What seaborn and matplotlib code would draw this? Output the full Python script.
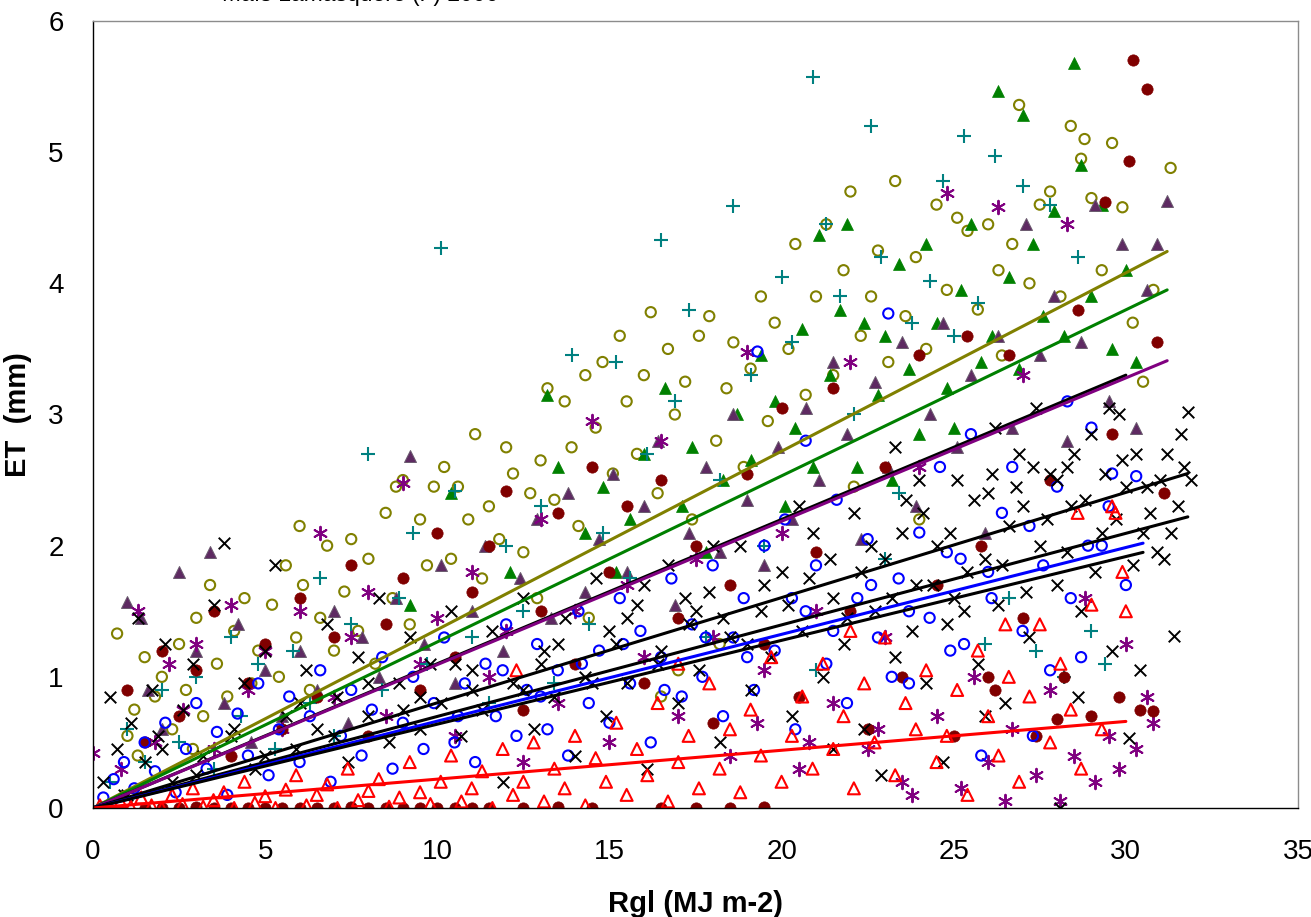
import numpy as np
import pandas as pd
import matplotlib
matplotlib.use("Agg")
import matplotlib.pyplot as plt
import seaborn as sns

# olive open circles
olive_x = [0.7, 1.0, 1.2, 1.5, 1.8, 2.0, 2.3, 2.5, 2.7, 3.0, 3.2, 3.4, 3.6, 3.9, 4.1, 4.4, 4.6, 4.8, 1.3, 2.9,
           5.2, 5.4, 5.6, 5.9, 6.1, 6.3, 6.6, 6.8, 7.0, 7.3, 7.5, 7.7, 8.0, 8.2, 8.5, 8.7, 9.0, 9.2, 9.5, 9.7, 9.9, 6.0, 8.8,
           10.2, 10.4, 10.6, 10.9, 11.1, 11.3, 11.5, 11.8, 12.0, 12.2, 12.5, 12.7, 13.0, 13.2, 13.4, 13.7, 13.9, 14.1, 14.3, 14.6, 14.8, 12.9, 14.4,
           15.1, 15.3, 15.5, 15.8, 16.0, 16.2, 16.4, 16.7, 16.9, 17.2, 17.4, 17.6, 17.9, 18.1, 18.4, 18.6, 18.9, 19.1, 19.4, 19.6, 19.8, 17.0, 18.2, 16.5,
           20.2, 20.4, 20.7, 21.0, 21.3, 21.5, 21.8, 22.0, 22.3, 22.6, 22.8, 23.1, 23.3, 23.6, 23.9, 24.2, 24.5, 24.8, 22.1, 24.0,
           25.1, 25.4, 25.7, 26.0, 26.3, 26.7, 26.9, 27.2, 27.5, 27.8, 28.1, 28.4, 28.7, 29.0, 29.3, 29.6, 29.9, 30.2, 30.5, 30.8, 31.3, 28.8, 26.4]
olive_y = [1.33, 0.55, 0.75, 1.15, 0.85, 1.0, 0.6, 1.25, 0.9, 1.45, 0.7, 1.7, 1.1, 0.85, 1.35, 1.6, 0.95, 1.2, 0.4, 0.45,
           1.55, 1.0, 1.85, 1.3, 1.7, 0.9, 1.45, 2.0, 1.2, 1.65, 2.05, 1.35, 1.9, 1.1, 2.25, 1.6, 2.5, 1.4, 2.2, 1.85, 2.45, 2.15, 2.45,
           2.6, 1.9, 2.45, 2.2, 2.85, 1.75, 2.3, 2.05, 2.75, 2.55, 1.95, 2.4, 2.65, 3.2, 2.35, 3.1, 2.75, 2.15, 3.3, 2.9, 3.4, 1.6, 1.45,
           2.55, 3.6, 3.1, 2.7, 3.3, 3.78, 2.4, 3.5, 3.0, 3.25, 2.2, 3.6, 3.75, 2.8, 3.2, 3.55, 2.6, 3.35, 3.9, 2.95, 3.7, 1.05, 1.25, 0.85,
           3.5, 4.3, 3.15, 3.9, 4.45, 3.3, 4.1, 4.7, 3.6, 3.9, 4.25, 3.4, 4.78, 3.75, 4.2, 3.5, 4.6, 3.95, 2.45, 2.2,
           4.5, 4.4, 3.8, 4.45, 4.1, 4.3, 5.36, 4.0, 4.6, 4.7, 3.9, 5.2, 4.95, 4.65, 4.1, 5.07, 4.58, 3.7, 3.25, 3.95, 4.88, 5.1, 3.45]

# green filled triangles
green_x = [9.2, 10.4, 12.1, 13.2, 13.5, 14.3, 14.8, 15.2, 15.6, 16.0, 16.6, 17.1, 17.4, 17.8, 18.3, 18.7, 19.1, 19.4, 19.8,
           20.1, 20.4, 20.6, 20.9, 21.1, 21.4, 21.7, 21.9, 22.2, 22.4, 22.8, 23.0, 23.4, 23.7, 24.0, 24.2, 24.5, 24.8,
           25.2, 25.5, 25.8, 26.1, 26.3, 26.6, 26.9, 27.0, 27.3, 27.6, 27.9, 28.2, 28.5, 28.7, 29.0, 29.3, 29.6, 30.0, 30.3, 25.0, 23.2]
green_y = [1.55, 2.4, 1.8, 3.15, 2.6, 2.1, 2.45, 1.8, 2.2, 2.7, 3.2, 2.3, 2.75, 1.95, 2.5, 3.0, 2.65, 3.45, 3.1,
           2.3, 2.9, 3.65, 2.6, 4.37, 3.3, 3.8, 4.45, 2.6, 3.7, 3.15, 3.6, 4.15, 3.35, 2.85, 4.3, 3.7, 3.2,
           3.95, 4.45, 3.4, 3.6, 5.47, 4.05, 3.35, 5.28, 4.3, 3.75, 4.55, 3.6, 5.68, 4.9, 3.9, 4.6, 3.5, 4.1, 3.4, 2.9, 2.5]

# dark purple filled triangles
dkpurple_x = [1.0, 1.4, 1.6, 2.0, 2.5, 3.0, 3.4, 3.8, 4.2, 4.6, 5.0, 5.5, 6.0, 6.5, 7.0, 7.4, 7.8, 8.3, 8.8, 9.2, 9.6,
              10.1, 10.5, 11.0, 11.4, 11.9, 12.4, 12.9, 13.3, 13.8, 14.3, 14.7, 15.1, 15.5, 16.0, 16.4, 16.9, 17.3, 17.8,
              18.2, 18.6, 19.0, 19.5, 19.9, 20.3, 20.7, 21.1, 21.5, 21.9, 22.3, 22.7, 23.1, 23.5, 23.9, 24.3, 24.7, 25.1,
              25.5, 25.9, 26.3, 26.7, 27.1, 27.5, 27.9, 28.3, 28.7, 29.1, 29.5, 29.9, 30.3, 30.9, 31.2, 30.6]
dkpurple_y = [1.57, 1.45, 0.9, 0.6, 1.8, 1.2, 1.95, 0.8, 1.4, 0.5, 1.05, 0.7, 1.2, 0.9, 1.5, 0.65, 1.3, 1.0, 1.6, 2.68, 1.25,
              1.85, 0.95, 1.5, 2.0, 1.2, 1.75, 2.2, 1.45, 2.4, 1.65, 2.05, 2.55, 1.8, 2.3, 2.8, 1.55, 2.1, 2.6,
              1.95, 3.0, 2.35, 1.85, 2.75, 2.2, 3.05, 2.5, 3.4, 2.85, 2.05, 3.25, 2.6, 3.55, 2.3, 3.0, 3.7, 2.75,
              3.3, 2.1, 3.6, 2.9, 4.45, 3.45, 3.9, 2.8, 3.55, 4.6, 3.1, 4.3, 2.9, 4.3, 4.63, 3.95]

# purple asterisks
purple_x = [0.0, 0.8, 1.3, 1.8, 2.2, 2.6, 3.0, 3.5, 4.0, 4.5, 5.0, 5.5, 6.0, 6.6, 7.0, 7.5, 8.0, 8.5, 9.0, 9.5,
            10.0, 10.5, 11.0, 11.5, 12.0, 12.5, 13.0, 13.5, 14.0, 14.5, 15.0, 15.5, 16.0, 16.5, 17.0, 17.5, 18.0, 18.5,
            19.0, 19.5, 20.0, 20.5, 21.0, 21.5, 22.0, 22.5, 23.0, 23.5, 24.0, 24.5, 24.8, 25.2, 25.6, 26.0, 26.3, 26.7,
            27.0, 27.4, 27.8, 28.1, 28.5, 28.8, 29.1, 29.5, 29.8, 30.0, 30.3, 30.6, 30.8, 28.3, 23.8, 26.5, 22.8, 20.8, 19.3]
purple_y = [0.42, 0.3, 1.5, 0.5, 1.1, 0.75, 1.25, 0.45, 1.55, 0.9, 1.2, 0.6, 1.5, 2.1, 0.85, 1.3, 1.65, 0.7, 2.48, 1.1,
            1.45, 0.55, 1.8, 1.0, 1.35, 0.35, 2.2, 0.8, 1.5, 2.95, 0.5, 1.7, 1.15, 2.8, 0.7, 1.9, 1.3, 0.4,
            3.48, 1.05, 2.1, 0.3, 1.5, 0.8, 3.4, 0.45, 1.3, 0.2, 2.6, 0.7, 4.69, 0.15, 1.0, 0.35, 4.58, 0.6,
            3.3, 0.25, 0.9, 0.05, 0.4, 1.6, 0.2, 0.55, 0.3, 1.25, 0.45, 0.85, 0.65, 4.45, 0.1, 0.05, 0.6, 0.5, 0.65]

# teal plus signs
teal_x = [0.5, 1.0, 1.5, 2.0, 2.5, 3.0, 3.5, 4.0, 4.3, 4.8, 5.3, 5.8, 6.3, 6.6, 7.0, 7.5, 8.0, 8.4, 8.9, 9.3, 9.7,
          10.1, 10.5, 11.0, 11.5, 12.0, 12.5, 13.0, 13.4, 13.9, 14.4, 14.8, 15.2, 15.6, 16.1, 16.5, 16.9, 17.3, 17.8,
          18.2, 18.6, 19.1, 19.5, 20.0, 20.3, 20.9, 21.3, 21.7, 22.1, 22.6, 22.9, 23.4, 23.8, 24.3, 24.7, 25.0, 25.3,
          25.7, 26.2, 26.6, 27.0, 27.4, 27.8, 28.2, 28.6, 29.0, 29.4, 25.9, 23.0, 21.0]
teal_y = [0.2, 0.6, 0.35, 0.9, 0.5, 1.0, 0.3, 1.3, 0.7, 1.1, 0.45, 1.2, 0.8, 1.75, 0.55, 1.4, 2.7, 0.9, 1.6, 2.1, 1.1,
          4.27, 2.42, 1.3, 0.8, 2.0, 1.5, 2.3, 0.95, 3.45, 1.4, 2.1, 3.4, 1.75, 2.7, 4.33, 3.1, 3.8, 1.3,
          2.5, 4.59, 3.3, 2.0, 4.05, 3.55, 5.57, 4.45, 3.9, 3.0, 5.2, 4.2, 2.4, 3.7, 4.02, 4.78, 3.6, 5.12,
          3.85, 4.97, 1.6, 4.74, 1.2, 4.6, 1.0, 4.2, 1.35, 1.1, 1.25, 1.9, 1.05]

# dark red filled circles
dkred_x = [1.5, 2.5, 3.5, 4.5, 5.5, 6.5, 7.5, 8.5, 9.5, 10.5, 11.5, 12.5, 13.5, 14.5, 16.5, 17.5, 18.5, 19.5,
           2.0, 3.0, 4.0, 5.0, 6.0, 7.0, 8.0, 9.0, 10.0, 11.0,
           1.0, 1.5, 2.0, 2.5, 3.0, 3.5, 4.0, 4.5, 5.0, 5.5, 6.0, 6.5, 7.0, 7.5, 8.0, 8.5, 9.0, 9.5, 10.0, 10.5,
           11.0, 11.5, 12.0, 12.5, 13.0, 13.5, 14.0, 14.5, 15.0, 15.5, 16.0, 16.5, 17.0, 17.5, 18.0, 18.5, 19.0, 19.5,
           20.0, 20.5, 21.0, 21.5, 22.0, 22.5, 23.0, 23.5, 24.0, 24.5, 25.0, 25.4, 25.8, 26.2, 26.6, 27.0, 27.4, 27.8,
           28.2, 28.6, 29.0, 29.4, 29.8, 30.1, 30.2, 30.6, 30.9, 30.4, 31.1, 30.8, 29.6, 28.0, 26.0]
dkred_y = [0.0, 0.0, 0.0, 0.0, 0.0, 0.0, 0.01, 0.0, 0.0, 0.0, 0.0, 0.0, 0.01, 0.0, 0.0, 0.0, 0.0, 0.01,
           0.0, 0.01, 0.0, 0.0, 0.0, 0.0, 0.0, 0.0, 0.0, 0.0,
           0.9, 0.5, 1.2, 0.7, 1.05, 1.5, 0.4, 0.95, 1.25, 0.6, 1.6, 0.85, 1.3, 1.85, 0.55, 1.4, 1.75, 0.9, 2.1, 1.15,
           1.65, 2.0, 2.42, 0.75, 1.5, 2.25, 1.1, 2.6, 1.8, 2.3, 0.95, 2.5, 1.45, 2.0, 0.65, 1.7, 2.55, 1.25,
           3.05, 0.85, 1.95, 3.2, 1.5, 0.6, 2.6, 1.0, 3.45, 1.7, 0.55, 3.6, 2.0, 0.9, 3.45, 1.45, 0.55, 2.5,
           1.0, 3.8, 0.7, 4.62, 0.85, 4.93, 5.7, 5.48, 3.55, 0.75, 2.4, 0.74, 2.85, 0.68, 1.0]

# blue open circles
blue_x = [0.3, 0.6, 0.9, 1.2, 1.5, 1.8, 2.1, 2.4, 2.7, 3.0, 3.3, 3.6, 3.9, 4.2, 4.5, 4.8, 5.1, 5.4, 5.7, 6.0,
          6.3, 6.6, 6.9, 7.2, 7.5, 7.8, 8.1, 8.4, 8.7, 9.0, 9.3, 9.6, 9.9, 10.2, 10.5, 10.8, 11.1, 11.4, 11.7, 12.0,
          12.3, 12.6, 12.9, 13.2, 13.5, 13.8, 14.1, 14.4, 14.7, 15.0, 15.3, 15.6, 15.9, 16.2, 16.5, 16.8, 17.1, 17.4,
          17.7, 18.0, 18.3, 18.6, 18.9, 19.2, 19.5, 19.8, 20.1, 20.4, 20.7, 21.0, 21.3, 21.6, 21.9, 22.2, 22.5, 22.8,
          23.1, 23.4, 23.7, 24.0, 24.3, 24.6, 24.9, 25.2, 25.5, 25.8, 26.1, 26.4, 26.7, 27.0, 27.3, 27.6, 28.0, 28.3,
          28.7, 29.0, 29.3, 29.6, 30.0, 30.3, 20.7, 19.3,
          10.6, 11.9, 13.0, 14.2, 15.4, 16.6, 17.8, 19.0, 20.3, 21.5, 22.6, 23.7, 24.8, 26.0, 27.2, 28.4, 29.5, 25.3,
          23.2, 27.8, 28.9]
blue_y = [0.08, 0.22, 0.35, 0.15, 0.5, 0.28, 0.65, 0.12, 0.45, 0.8, 0.3, 0.58, 0.1, 0.72, 0.4, 0.95, 0.25, 0.6, 0.85, 0.35,
          0.7, 1.05, 0.2, 0.55, 0.9, 0.4, 0.75, 1.15, 0.3, 0.65, 1.0, 0.45, 0.8, 1.3, 0.5, 0.95, 0.35, 1.1, 0.7, 1.4,
          0.55, 0.9, 1.25, 0.6, 1.05, 0.4, 1.5, 0.8, 1.2, 0.65, 1.6, 0.95, 1.35, 0.5, 1.15, 1.75, 0.85, 1.4,
          1.0, 1.85, 0.7, 1.3, 1.6, 0.9, 2.0, 1.2, 2.2, 0.6, 1.5, 1.85, 1.1, 2.35, 0.8, 1.6, 2.05, 1.3,
          3.77, 1.75, 0.95, 2.1, 1.45, 2.6, 1.2, 1.9, 2.85, 0.4, 1.6, 2.25, 2.6, 1.35, 0.55, 1.85, 2.45, 3.1,
          1.15, 2.9, 2.0, 2.55, 1.7, 2.53, 2.8, 3.48,
          0.7, 1.05, 0.85, 1.1, 1.25, 0.9, 1.3, 1.15, 1.6, 1.35, 1.7, 1.5, 1.95, 1.8, 2.15, 1.6, 2.3, 1.25,
          1.0, 1.05, 2.0]

# black crosses
black_x = [0.3, 0.5, 0.7, 0.9, 1.1, 1.3, 1.5, 1.7, 1.9, 2.1, 2.3, 2.6, 2.9, 3.2, 3.5, 3.8, 4.1, 4.4, 4.7, 5.0,
           5.3, 5.6, 5.9, 6.2, 6.5, 6.8, 7.1, 7.4, 7.7, 8.0, 8.3, 8.6, 8.9, 9.2, 9.5, 9.8, 10.1, 10.4, 10.7, 11.0,
           11.3, 11.6, 11.9, 12.2, 12.5, 12.8, 13.1, 13.4, 13.7, 14.0, 14.3, 14.6, 14.9, 15.2, 15.5, 15.8, 16.1, 16.4,
           16.7, 17.0, 17.3, 17.6, 17.9, 18.2, 18.5, 18.8, 19.1, 19.4, 19.7, 20.0, 20.3, 20.6, 20.9, 21.2, 21.5, 21.8,
           22.1, 22.4, 22.7, 23.0, 23.3, 23.6, 23.9, 24.2, 24.5, 24.8, 25.1, 25.4, 25.7, 26.0, 26.3, 26.6, 26.9, 27.2,
           27.5, 27.8, 28.1, 28.0, 28.4, 28.7, 29.0, 29.3, 29.6, 29.9, 30.2, 30.4, 30.6, 30.9, 31.2, 31.5, 31.4, 31.8,
           31.6, 31.9, 30.1, 29.5, 27.4, 25.9, 24.7, 22.9, 21.5, 26.5, 28.6, 23.3, 29.8, 20.5, 18.0, 16.0, 24.0, 26.2,
           28.3, 30.5, 27.0, 25.0, 19.5, 17.5, 15.0, 13.0, 11.0, 9.0, 7.0, 5.0, 3.0, 1.0,
           20.2, 20.8, 21.4, 21.9, 22.3, 22.6, 23.2, 23.5, 23.8, 24.1, 24.4, 24.9, 25.3, 25.6, 25.9, 26.1, 26.4, 26.8,
           27.1, 27.3, 27.7, 28.0, 28.3, 28.5, 28.8, 29.1, 29.4, 29.7, 30.0, 30.3, 30.7, 31.0, 31.3, 31.7, 31.1,
           12.5, 13.5, 14.5, 15.5, 16.5, 17.2, 18.3, 19.0, 9.5, 10.5, 8.0, 6.0, 4.0, 2.0]
black_y = [0.2, 0.85, 0.45, 0.1, 0.65, 1.45, 0.35, 0.9, 0.55, 1.25, 0.2, 0.75, 1.1, 0.4, 1.55, 2.02, 0.6, 0.95, 0.3, 1.2,
           1.85, 0.7, 0.45, 1.05, 0.6, 1.4, 0.85, 0.35, 1.15, 0.7, 1.6, 0.5, 0.95, 1.3, 0.6, 1.1, 0.8, 1.5, 0.55, 1.05,
           0.75, 1.35, 0.2, 0.95, 1.6, 0.6, 1.2, 0.85, 1.45, 0.4, 1.0, 1.75, 0.7, 1.25, 0.95, 1.55, 0.3, 1.1,
           1.85, 0.8, 1.4, 1.05, 1.65, 0.5, 1.3, 2.0, 0.9, 1.5, 1.15, 1.8, 0.7, 1.35, 2.1, 1.0, 1.6, 1.25,
           2.25, 0.6, 1.5, 1.9, 1.15, 2.35, 1.7, 0.95, 2.0, 1.4, 2.5, 1.8, 1.1, 2.4, 1.55, 2.15, 2.7, 1.3,
           2.0, 2.55, 0.0, 1.7, 2.3, 1.5, 2.85, 2.1, 1.2, 2.65, 1.85, 1.05, 2.45, 1.95, 2.7, 2.3, 1.31, 3.02,
           2.85, 2.5, 0.53, 3.05, 3.05, 0.7, 0.35, 0.25, 0.45, 0.8, 0.85, 2.75, 3.0, 2.3, 2.0, 1.7, 2.5, 2.9,
           2.6, 2.1, 2.3, 1.6, 1.7, 1.5, 1.35, 1.1, 0.9, 0.75, 0.55, 0.4, 0.25, 0.1,
           1.55, 1.75, 1.9, 1.45, 1.8, 2.0, 1.6, 2.1, 1.35, 2.25, 1.7, 2.1, 1.5, 2.35, 1.9, 2.55, 1.85, 2.45,
           1.65, 2.6, 2.2, 2.5, 1.95, 2.7, 2.35, 1.8, 2.55, 2.2, 2.45, 2.7, 2.25, 2.5, 2.1, 2.6, 1.9,
           0.9, 1.25, 0.95, 1.45, 1.2, 1.6, 1.45, 1.25, 0.85, 1.1, 0.95, 0.8, 0.55, 0.45]

# red open triangles
red_x = [0.2, 0.5, 0.8, 1.1, 1.4, 1.7, 2.0, 2.3, 2.6, 2.9, 3.2, 3.5, 3.8, 4.1, 4.4, 4.7, 5.0, 5.3, 5.6, 5.9,
         6.2, 6.5, 6.8, 7.1, 7.4, 7.7, 8.0, 8.3, 8.6, 8.9, 9.2, 9.5, 9.8, 10.1, 10.4, 10.7, 11.0, 11.3, 11.6, 11.9,
         12.2, 12.5, 12.8, 13.1, 13.4, 13.7, 14.0, 14.3, 14.6, 14.9, 15.2, 15.5, 15.8, 16.1, 16.4, 16.7, 17.0, 17.3,
         17.6, 17.9, 18.2, 18.5, 18.8, 19.1, 19.4, 19.7, 20.0, 20.3, 20.6, 20.9, 21.2, 21.5, 21.8, 22.1, 22.4, 22.7,
         23.0, 23.3, 23.6, 23.9, 24.2, 24.5, 24.8, 25.1, 25.4, 25.7, 26.0, 26.3, 26.6, 26.9, 27.2, 27.5, 27.8, 28.1,
         28.4, 28.7, 29.0, 29.3, 29.6, 29.9, 29.7, 30.0, 28.6, 26.5, 22.0, 12.3, 17.0]
red_y = [0.02, 0.0, 0.05, 0.01, 0.08, 0.02, 0.0, 0.1, 0.03, 0.15, 0.01, 0.06, 0.12, 0.0, 0.2, 0.04, 0.09, 0.0, 0.14, 0.25,
         0.02, 0.1, 0.18, 0.0, 0.3, 0.06, 0.13, 0.22, 0.01, 0.08, 0.35, 0.12, 0.03, 0.2, 0.4, 0.05, 0.15, 0.28, 0.0, 0.45,
         0.1, 0.2, 0.5, 0.05, 0.3, 0.15, 0.55, 0.02, 0.38, 0.2, 0.65, 0.1, 0.45, 0.25, 0.8, 0.05, 0.35, 0.55,
         0.15, 0.95, 0.3, 0.6, 0.12, 0.75, 0.4, 1.15, 0.2, 0.55, 0.85, 0.3, 1.1, 0.45, 0.7, 0.15, 0.95, 0.5,
         1.3, 0.25, 0.8, 0.6, 1.05, 0.35, 0.55, 0.9, 0.1, 1.2, 0.7, 0.4, 1.0, 0.2, 0.85, 1.4, 0.5, 1.1,
         0.75, 0.3, 1.55, 0.6, 2.3, 1.8, 2.25, 1.5, 2.25, 1.4, 1.35, 1.05, 1.1]

# trend lines through the origin: slope and last x of each fit
trend_colors = ["#808000", "#008000", "black", "#800080", "black", "black", "#0000FF", "black", "#FF0000"]
trend_slopes = [0.136, 0.1266, 0.110, 0.1093, 0.0802, 0.0698, 0.0662, 0.0639, 0.022]
trend_xend = [31.2, 31.2, 30.0, 31.2, 31.8, 31.8, 30.5, 30.5, 30.0]

sns.set_style("white")
plt.rcParams["font.family"] = ["Liberation Sans", "DejaVu Sans"]
plt.rcParams["text.color"] = "black"
plt.rcParams["axes.labelcolor"] = "black"
plt.rcParams["xtick.color"] = "black"
plt.rcParams["ytick.color"] = "black"

fig = plt.figure(figsize=(13.11, 9.17), dpi=100)
ax = fig.add_axes([93 / 1311, 1 - 808 / 917, 1205 / 1311, 787 / 917])

S = 54
sns.scatterplot(x=olive_x, y=olive_y, ax=ax, marker="o", s=S, fc="none", ec="#808000", linewidth=1.5)
sns.scatterplot(x=green_x, y=green_y, ax=ax, marker="^", s=S + 20, color="#008000", ec="#008000", linewidth=0.5)
sns.scatterplot(x=dkpurple_x, y=dkpurple_y, ax=ax, marker="^", s=S + 20, color="#5E2A62", ec="#6A5A6E", linewidth=0.7)
sns.scatterplot(x=purple_x, y=purple_y, ax=ax, marker=(6, 2, 0), s=S + 40, color="#800080", linewidth=1.4)
sns.scatterplot(x=teal_x, y=teal_y, ax=ax, marker="+", s=S + 35, color="#008080", linewidth=1.5)
sns.scatterplot(x=dkred_x, y=dkred_y, ax=ax, marker="o", s=S + 12, color="#800000", ec="#800000", linewidth=0.5)
sns.scatterplot(x=blue_x, y=blue_y, ax=ax, marker="o", s=S, fc="none", ec="#0000FF", linewidth=1.5)
sns.scatterplot(x=black_x, y=black_y, ax=ax, marker="x", s=S + 15, color="black", linewidth=1.4)
sns.scatterplot(x=red_x, y=red_y, ax=ax, marker="^", s=S + 20, fc="none", ec="#FF0000", linewidth=1.5)

for col, k, xe in zip(trend_colors, trend_slopes, trend_xend):
    xs = np.array([0.0, xe])
    sns.lineplot(x=xs, y=k * xs, ax=ax, color=col, linewidth=2.2)

ax.set_xlim(0, 35)
ax.set_ylim(0, 6)
ax.set_xticks(range(0, 36, 5))
ax.set_yticks(range(0, 7))
ax.tick_params(axis="both", direction="out", length=7, width=1, labelsize=20, color="black")
ax.tick_params(axis="x", pad=15)
ax.tick_params(axis="y", pad=14)
for side in ["left", "bottom"]:
    ax.spines[side].set_color("black")
    ax.spines[side].set_linewidth(1.0)
for side in ["top", "right"]:
    ax.spines[side].set_color("#8C8C8C")
    ax.spines[side].set_linewidth(1.0)

ax.set_xlabel("Rgl (MJ m-2)", fontsize=21, fontweight="bold", labelpad=18)
ax.set_ylabel("ET  (mm)", fontsize=21, fontweight="bold", labelpad=12)

fig.text(222 / 1311, 1 - 1 / 917, "Maïs Lamasquère (F) 2006", fontsize=16.5, va="baseline", ha="left")

fig.savefig("out.png", dpi=100, facecolor="white")
